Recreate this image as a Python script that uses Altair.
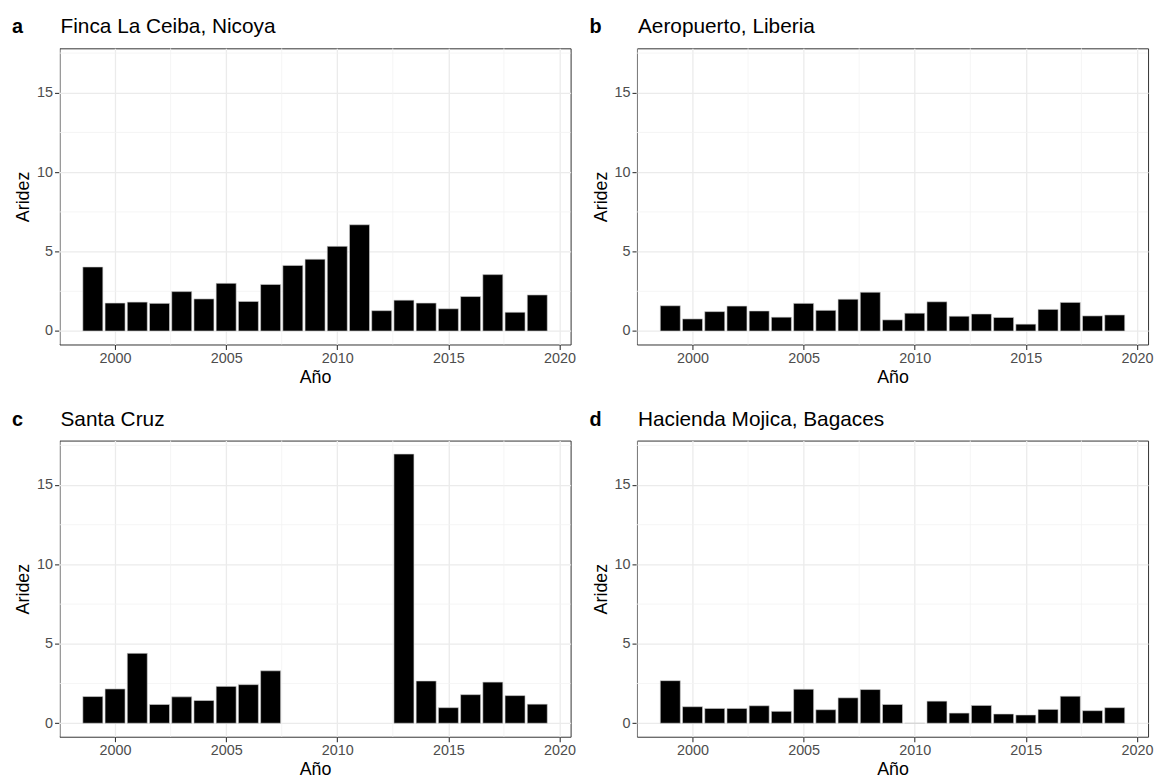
import altair as alt
import pandas as pd

years = list(range(1999, 2020))
finca = [4.03, 1.76, 1.82, 1.74, 2.48, 2.02, 3.00, 1.86, 2.93, 4.13, 4.52,
         5.33, 6.69, 1.28, 1.94, 1.76, 1.40, 2.17, 3.55, 1.18, 2.27]
aero = [1.59, 0.76, 1.22, 1.57, 1.26, 0.87, 1.74, 1.30, 2.00, 2.44, 0.70,
        1.12, 1.84, 0.93, 1.07, 0.85, 0.43, 1.36, 1.80, 0.95, 1.01]
santa = [1.68, 2.16, 4.40, 1.18, 1.66, 1.43, 2.32, 2.43, 3.30, None, None,
         None, None, None, 16.95, 2.66, 0.98, 1.80, 2.59, 1.74, 1.20]
mojica = [2.68, 1.04, 0.93, 0.93, 1.10, 0.75, 2.14, 0.85, 1.60, 2.12, 1.18,
          0.00, 1.39, 0.64, 1.12, 0.58, 0.52, 0.87, 1.70, 0.79, 0.98]

panel_titles = ["Finca La Ceiba, Nicoya", "Aeropuerto, Liberia",
                "Santa Cruz", "Hacienda Mojica, Bagaces"]
panel_letters = ["a", "b", "c", "d"]
x_ticks = [2000, 2005, 2010, 2015, 2020]
y_ticks = [0, 5, 10, 15]
x_minor = [1997.5, 2002.5, 2007.5, 2012.5, 2017.5]
y_minor = [2.5, 7.5, 12.5, 17.5]

FONT = "Liberation Sans"
W, H = 516, 299
xs = alt.Scale(domain=[1997.5, 2020.5], nice=False, zero=False)
ys = alt.Scale(domain=[-0.85, 17.8], nice=False, zero=False)
x_axis = alt.Axis(values=x_ticks, title="Año", format="d")
y_axis = alt.Axis(values=y_ticks, title="Aridez")


def panel(values, title, letter):
    df = pd.DataFrame({"year": years, "val": values}).dropna()
    df["x0"] = df["year"] - 0.45
    df["x1"] = df["year"] + 0.45
    df["base"] = 0.0

    xminor = alt.Chart(pd.DataFrame({"v": x_minor})).mark_rule(
        color="#F2F2F2", strokeWidth=0.8
    ).encode(x=alt.X("v:Q", scale=xs, axis=x_axis))
    yminor = alt.Chart(pd.DataFrame({"v": y_minor})).mark_rule(
        color="#F2F2F2", strokeWidth=0.8
    ).encode(y=alt.Y("v:Q", scale=ys, axis=y_axis))

    bars = alt.Chart(df).mark_rect(
        color="black", stroke="#D0D0D0", strokeWidth=0.6
    ).encode(
        x=alt.X("x0:Q", scale=xs, axis=x_axis),
        x2="x1:Q",
        y=alt.Y("val:Q", scale=ys, axis=y_axis),
        y2="base:Q",
    )

    lab = pd.DataFrame({"letter": [letter], "title": [title]})
    letter_txt = alt.Chart(lab).mark_text(
        font=FONT, fontSize=20, fontWeight="bold", align="left",
        baseline="alphabetic", color="black"
    ).encode(x=alt.value(-48), y=alt.value(-15), text="letter:N")
    title_txt = alt.Chart(lab).mark_text(
        font=FONT, fontSize=21, align="left", baseline="alphabetic",
        color="black"
    ).encode(x=alt.value(1), y=alt.value(-15), text="title:N")

    return alt.layer(xminor, yminor, bars, letter_txt, title_txt).properties(
        width=W, height=H,
        view=alt.ViewBackground(stroke="#333333", strokeWidth=1),
    )


series = [finca, aero, santa, mojica]
panels = [panel(s, t, l) for s, t, l in zip(series, panel_titles, panel_letters)]

chart = alt.vconcat(
    alt.hconcat(panels[0], panels[1], spacing=12),
    alt.hconcat(panels[2], panels[3], spacing=12),
    spacing=21,
).properties(
    padding={"left": 3, "top": 4, "right": 0, "bottom": 0},
    background="white",
).configure_view(
    stroke="#333333", strokeWidth=1
).configure_axis(
    labelFont=FONT, titleFont=FONT, labelFontSize=14.5, titleFontSize=18,
    labelColor="#4D4D4D", titleColor="black", titleFontWeight="normal",
    tickColor="#333333", tickSize=5, tickWidth=1.1, labelPadding=2,
    titlePadding=4, domain=False, gridColor="#EBEBEB", gridWidth=1.3,
)

chart.save("out.html", embed_options={"renderer": "svg", "actions": False})
